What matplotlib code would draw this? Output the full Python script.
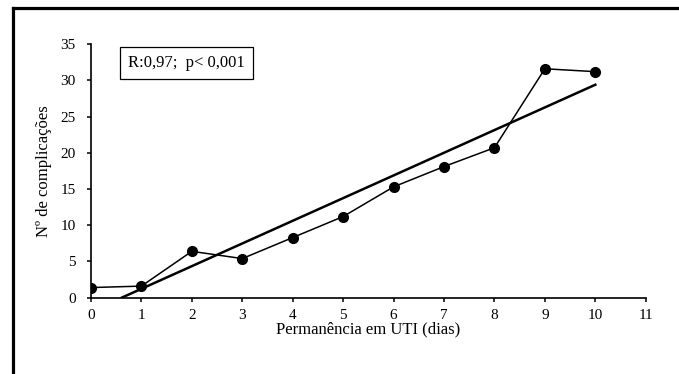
import matplotlib
matplotlib.use("Agg")
import matplotlib.pyplot as plt
from matplotlib.lines import Line2D
import numpy as np

plt.rcParams['font.family'] = ['Liberation Serif', 'DejaVu Serif']

dias = [0, 1, 2, 3, 4, 5, 6, 7, 8, 9, 10]
complicacoes = [1.4, 1.6, 6.4, 5.4, 8.3, 11.2, 15.3, 18.1, 20.7, 31.6, 31.2]
x_ticks = [0, 1, 2, 3, 4, 5, 6, 7, 8, 9, 10, 11]
y_ticks = [0, 5, 10, 15, 20, 25, 30, 35]
anotacao = "R:0,97;  p< 0,001"

fig = plt.figure(figsize=(6.79, 3.74), dpi=100)
ax = fig.add_axes([0.134, 0.204, 0.817, 0.678])

ax.plot(dias, complicacoes, color='black', lw=1.1, marker='o', ms=7, zorder=3)

slope, intercept = np.polyfit(dias, complicacoes, 1)
x0 = -intercept / slope
xs = np.array([x0, dias[-1]])
ax.plot(xs, slope * xs + intercept, color='black', lw=1.8, zorder=2)

ax.set_xlim(0, 11)
ax.set_ylim(0, 35)
ax.set_xticks(x_ticks)
ax.set_yticks(y_ticks)
for s in ['top', 'right']:
    ax.spines[s].set_visible(False)
for s in ['left', 'bottom']:
    ax.spines[s].set_linewidth(1.2)
ax.tick_params(axis='x', direction='out', length=3, width=1.1, labelsize=11, pad=5)
ax.tick_params(axis='y', direction='out', length=3, width=1.1, labelsize=11, pad=8)
ax.set_xlabel("Permanência em UTI (dias)", fontsize=12, labelpad=0)
ax.set_ylabel("Nº de complicações", fontsize=12, labelpad=6)

ax.text(0.067, 0.925, anotacao, transform=ax.transAxes, fontsize=12, va='center', ha='left',
        bbox=dict(boxstyle='square,pad=0.5', fc='white', ec='black', lw=0.9))

fig.add_artist(Line2D([0.019, 0.019], [0, 0.979], transform=fig.transFigure, color='black', lw=2.3))
fig.add_artist(Line2D([0.019, 1.0], [0.979, 0.979], transform=fig.transFigure, color='black', lw=2.3))

fig.savefig('out.png', dpi=100)
